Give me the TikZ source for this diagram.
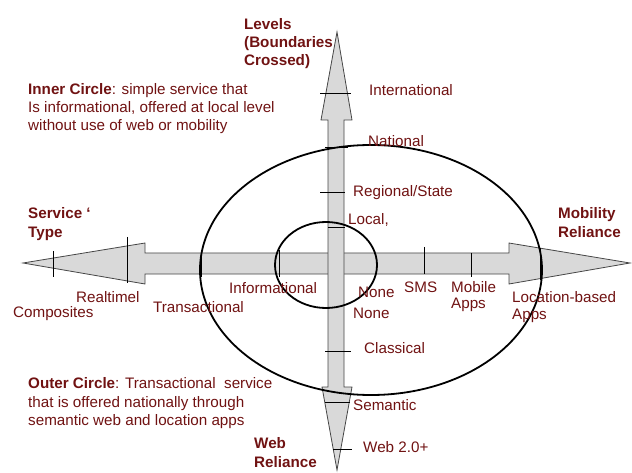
\documentclass[tikz,border=0pt]{standalone}
\usepackage{fontspec}
\setmainfont{Liberation Sans}
\definecolor{rzText}{RGB}{112,18,18}
\definecolor{rzFill}{RGB}{217,217,217}
\definecolor{rzEdge}{RGB}{70,70,70}
\newcommand{\rzKey}[1]{\textbf{#1}}

\begin{document}
\begin{tikzpicture}[x=1pt,y=-1pt,
  lbl/.style={anchor=base west, inner sep=0pt, text=rzText, font=\fontsize{15.2}{18}\selectfont},
  axisarrow/.style={fill=rzFill, draw=rzEdge, line width=0.8pt, line join=miter},
  tick/.style={draw=black, line width=0.9pt},
  ring/.style={draw=black, line width=1.8pt}]
\useasboundingbox (0,0) rectangle (632,473);
\path[axisarrow] (23,263) -- (145,243) -- (145,253) -- (509,253) -- (509,243) -- (630,263) -- (509,284) -- (509,274) -- (145,274) -- (145,284) -- cycle;
\path[axisarrow] (337,32) -- (352,120) -- (344,120) -- (344,387) -- (352,387) -- (337,470) -- (322,387) -- (328,387) -- (328,120) -- (321,120) -- cycle;
\draw[tick] (53,251) -- (53,277);
\draw[tick] (127,237) -- (127,283);
\draw[tick] (201,250) -- (201,277);
\draw[tick] (279,250) -- (279,277);
\draw[tick] (424,247) -- (424,274);
\draw[tick] (471,253) -- (471,277);
\draw[tick] (540,248) -- (540,280);
\draw[tick] (320,93) -- (351,93);
\draw[tick] (325,147) -- (348,147);
\draw[tick] (320,192) -- (345,192);
\draw[tick] (328,227) -- (345,227);
\draw[tick] (325,351) -- (351,351);
\draw[tick] (325,402) -- (350,402);
\draw[tick] (333,449) -- (352,449);
\draw[ring] (371,270) ellipse [x radius=171, y radius=125];
\draw[ring] (326,265) ellipse [x radius=51, y radius=43];
\node[lbl] (levels1) at (244,30) {\rzKey{Levels}};
\node[lbl] (levels2) at (244,48) {\rzKey{(Boundaries}};
\node[lbl] (levels3) at (244,66) {\rzKey{Crossed)}};
\node[lbl] (inner1) at (28,95) {\rzKey{Inner Circle}: simple service that};
\node[lbl] (inner2) at (28,113) {Is informational, offered at local level};
\node[lbl] (inner3) at (28,131) {without use of web or mobility};
\node[lbl] (service1) at (28,219) {\rzKey{Service ‘}};
\node[lbl] (service2) at (28,237) {\rzKey{Type}};
\node[lbl] (mobility1) at (558,219) {\rzKey{Mobility}};
\node[lbl] (mobility2) at (558,237) {\rzKey{Reliance}};
\node[lbl] (outer1) at (28,388) {\rzKey{Outer Circle}: Transactional\ \ service};
\node[lbl] (outer2) at (28,407) {that is offered nationally through};
\node[lbl] (outer3) at (28,425) {semantic web and location apps};
\node[lbl] (web1) at (254,448) {\rzKey{Web}};
\node[lbl] (web2) at (254,467) {\rzKey{Reliance}};
\node[lbl] (international) at (369,96) {International};
\node[lbl] (national) at (368,147) {National};
\node[lbl] (regional) at (353,197) {Regional/State};
\node[lbl] (local) at (348,225) {Local,};
\node[lbl] (informational) at (229,293) {Informational};
\node[lbl] (transactional) at (153,312) {Transactional};
\node[lbl] (realtime) at (76,302) {Realtimel};
\node[lbl] (composites) at (13,317) {Composites};
\node[lbl] (none1) at (358,297) {None};
\node[lbl] (none2) at (353,318) {None};
\node[lbl] (sms) at (404,292) {SMS};
\node[lbl] (mobile1) at (451,292) {Mobile};
\node[lbl] (mobile2) at (451,308) {Apps};
\node[lbl] (location1) at (512,302) {Location-based};
\node[lbl] (location2) at (512,319) {Apps};
\node[lbl] (classical) at (364,353) {Classical};
\node[lbl] (semantic) at (353,410) {Semantic};
\node[lbl] (web20) at (363,452) {Web 2.0+};
\end{tikzpicture}
\end{document}
